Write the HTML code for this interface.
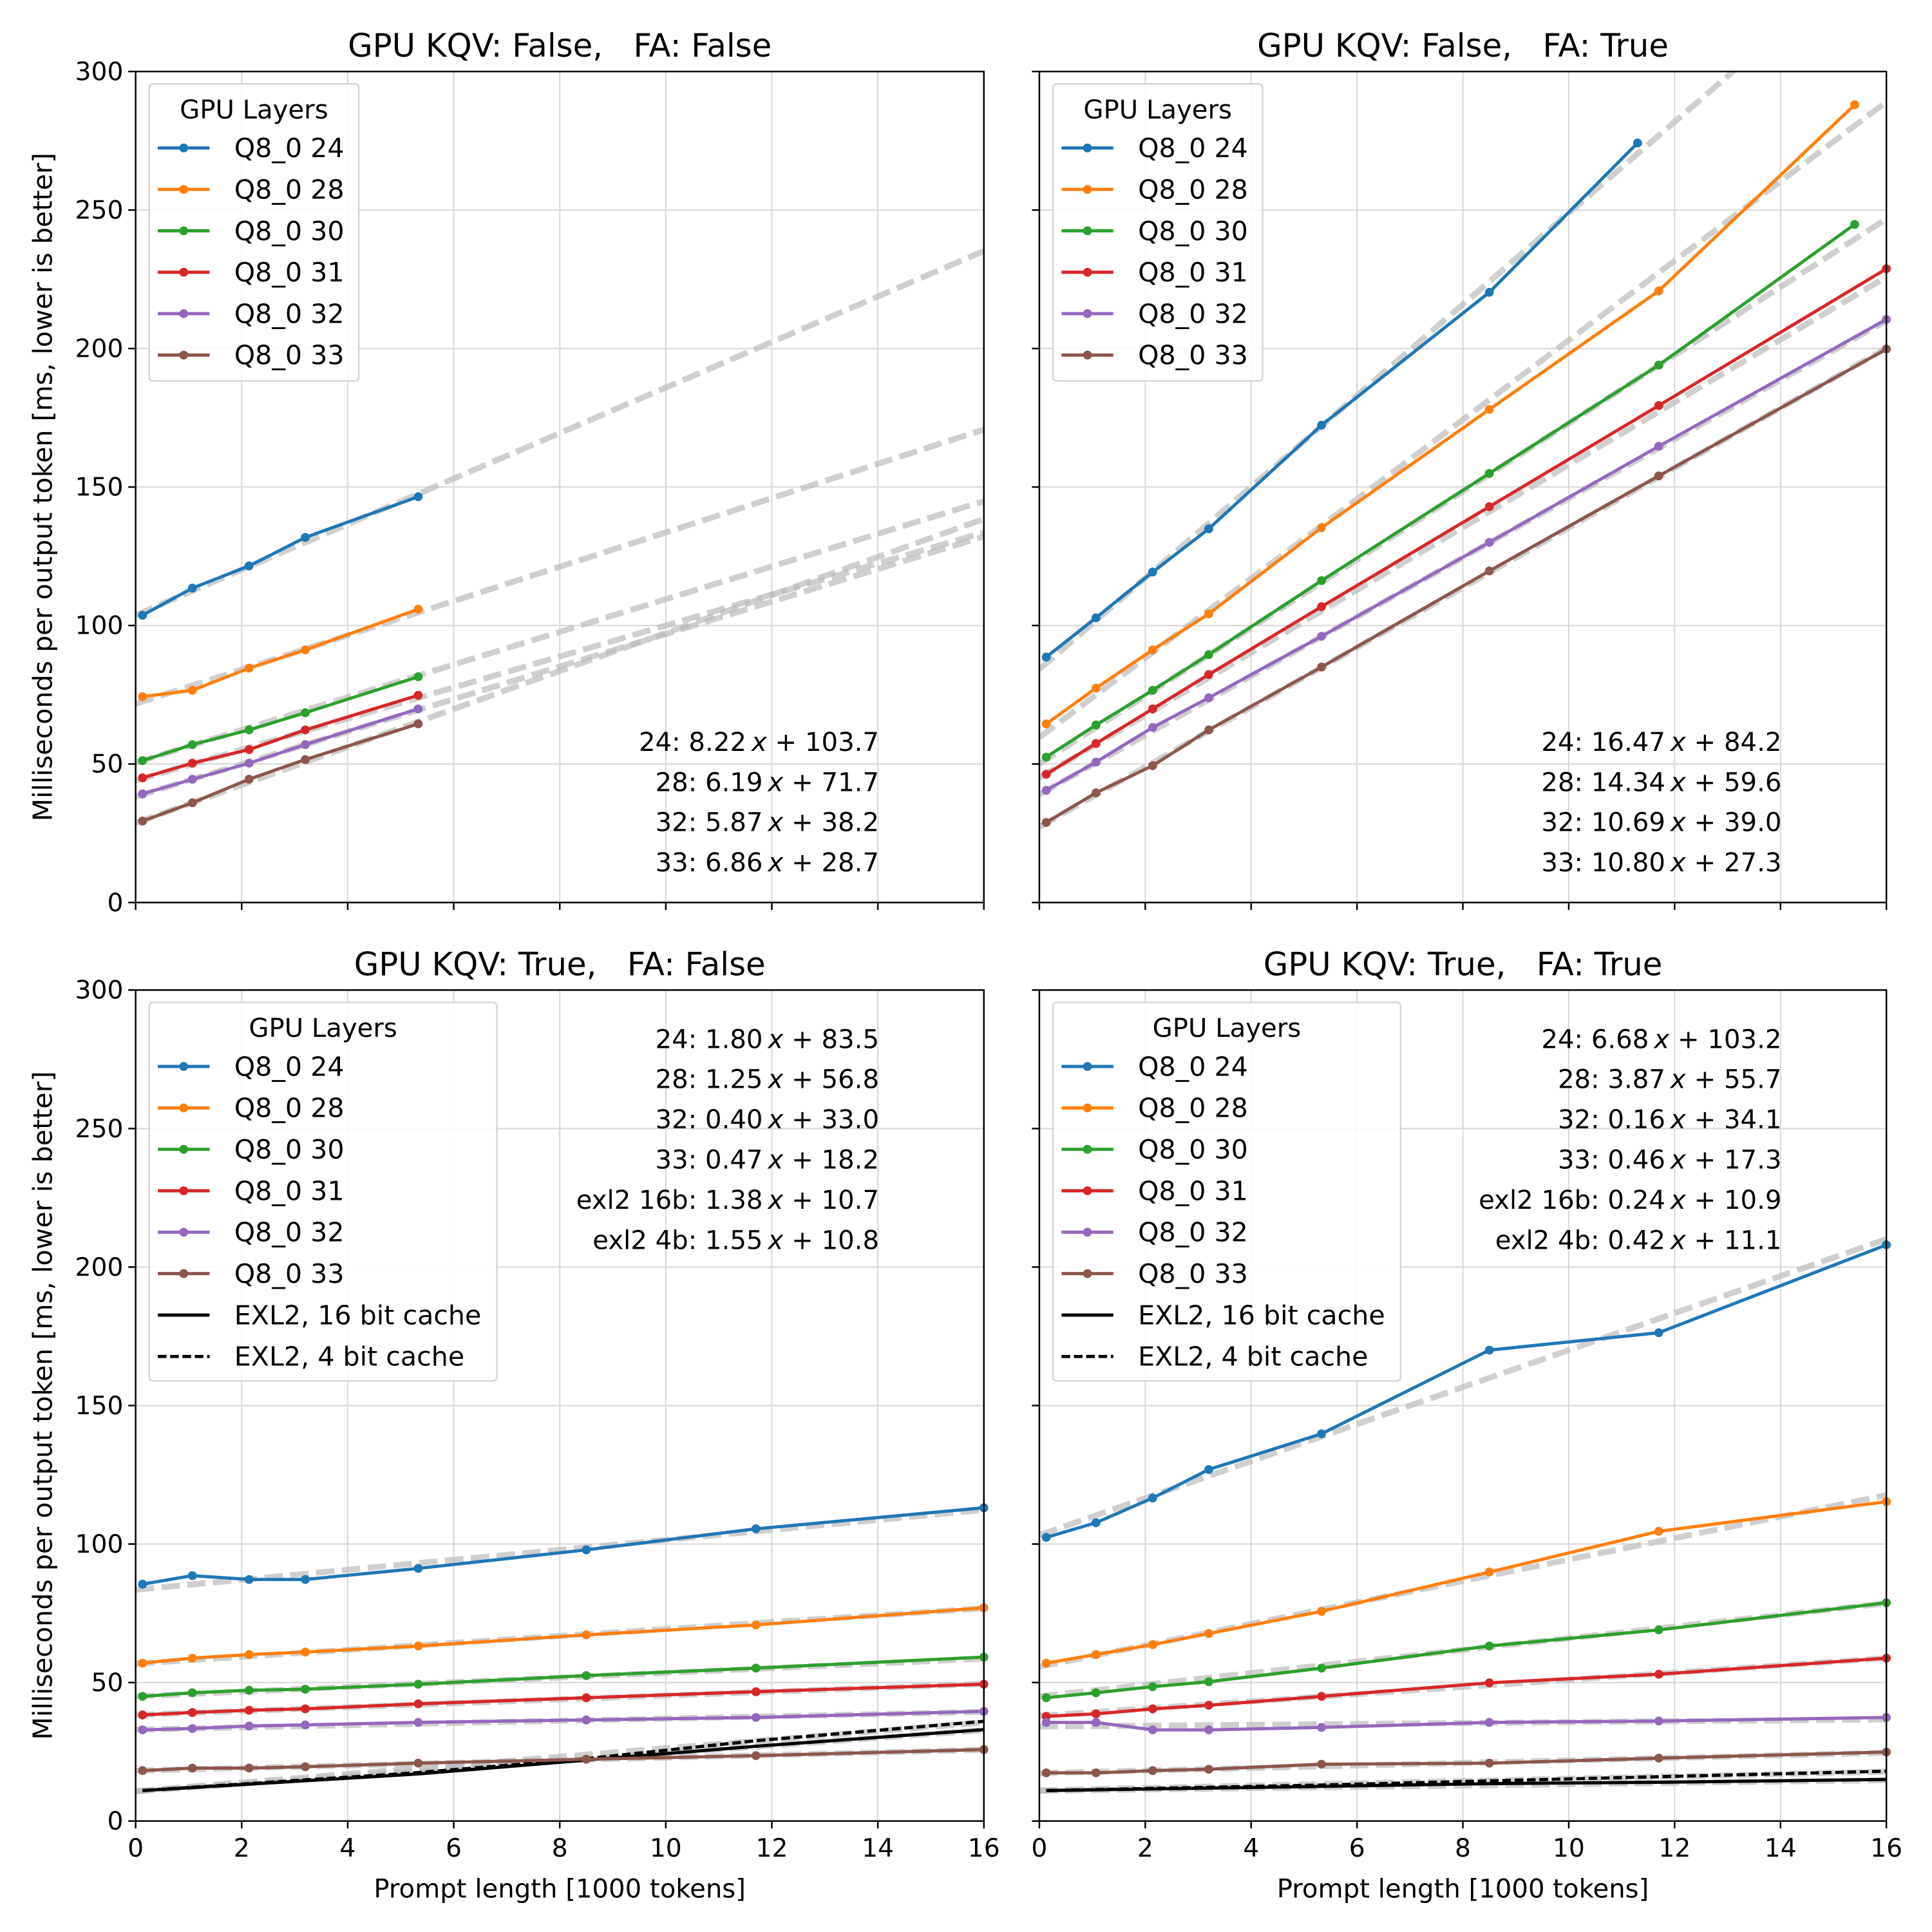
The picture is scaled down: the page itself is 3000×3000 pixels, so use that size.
<!DOCTYPE html>
<html><head><meta charset="utf-8"><style>
html,body{margin:0;padding:0;background:#fff}
svg{display:block}
text{font-family:"DejaVu Sans","Liberation Sans",sans-serif;fill:#000;white-space:pre}
</style></head><body>
<svg id="fig" xmlns="http://www.w3.org/2000/svg" width="3000" height="3000" viewBox="0 0 1567 1567"></svg>
<script>
const NS="http://www.w3.org/2000/svg";
const fig=document.getElementById('fig');
const colors={"24":"#1f77b4","28":"#ff7f0e","30":"#2ca02c","31":"#d62728","32":"#9467bd","33":"#8c564b"};
const layers=["24","28","30","31","32","33"];
const yTicks=[0,50,100,150,200,250,300];
const xTicks=[0,2,4,6,8,10,12,14,16];
const xsStd=[0.13,1.07,2.14,3.2,5.33,8.5,11.7,16];

// panel 1: KQV False FA False
const p1x={"24":[0.13,1.07,2.14,3.2,5.33],"28":[0.13,1.07,2.14,3.2,5.33],"30":[0.13,1.07,2.14,3.2,5.33],"31":[0.13,1.07,2.14,3.2,5.33],"32":[0.13,1.07,2.14,3.2,5.33],"33":[0.13,1.07,2.14,3.2,5.33]};
const p1y={"24":[103.7,113.5,121.5,131.8,146.5],"28":[74.3,76.6,84.6,91.2,105.9],"30":[51.2,57,62.3,68.5,81.5],"31":[45,50.3,55.2,62.3,74.8],"32":[39.2,44.5,50.3,57,69.9],"33":[29.4,36,44.5,51.6,64.5]};
const p1fit={"24":[8.22,103.7],"28":[6.19,71.7],"30":[5.9,50.5],"31":[5.6,44],"32":[5.87,38.2],"33":[6.86,28.7]};
const p1ann=["24: 8.22","28: 6.19","32: 5.87","33: 6.86"];
const p1annB=["103.7","71.7","38.2","28.7"];

// panel 2: KQV False FA True
const p2x={"24":[0.13,1.07,2.14,3.2,5.33,8.5,11.3],"28":[0.13,1.07,2.14,3.2,5.33,8.5,11.7,15.4],"30":[0.13,1.07,2.14,3.2,5.33,8.5,11.7,15.4],"31":xsStd,"32":xsStd,"33":xsStd};
const p2y={"24":[88.6,102.8,119.3,134.9,172.3,220.3,274.2],"28":[64.5,77.4,91.2,104.2,135.3,178,220.8,288],"30":[52.5,64.1,76.6,89.5,116.2,154.9,194,244.8],"31":[46.3,57.4,69.9,82.3,106.8,142.9,179.4,228.8],"32":[40.5,50.7,63.2,73.9,96.1,130,164.7,210.5],"33":[28.9,39.6,49.4,62.3,85,119.7,154,199.8]};
const p2fit={"24":[16.47,84.2],"28":[14.34,59.6],"30":[12.3,50],"31":[11.3,45],"32":[10.69,39.0],"33":[10.8,27.3]};
const p2ann=["24: 16.47","28: 14.34","32: 10.69","33: 10.80"];
const p2annB=["84.2","59.6","39.0","27.3"];

// panel 3: KQV True FA False
const p3y={"24":[85.5,88.6,87.2,87.2,91.2,97.9,105.5,113.1],"28":[57,58.8,60.1,61,63.2,67.2,70.8,77],"30":[45,46.3,47.2,47.6,49.4,52.5,55.2,59.2],"31":[38.3,39.2,40,40.5,42.3,44.5,46.7,49.4],"32":[32.9,33.4,34.3,34.7,35.6,36.5,37.4,39.6],"33":[18.2,19.1,19.1,19.6,20.9,22.3,23.6,25.8]};
const p3fit={"24":[1.80,83.5],"28":[1.25,56.8],"30":[0.85,45],"31":[0.7,38.3],"32":[0.40,33.0],"33":[0.47,18.2]};
const exlX=[0.13,5.33,8.5,11.7,16];
const p3e16=[11,17,22,27,33];
const p3e4=[11,17.5,22.5,29,36];
const p3efit=[[1.38,10.7],[1.55,10.8]];
const p3ann=["24: 1.80","28: 1.25","32: 0.40","33: 0.47","exl2 16b: 1.38","exl2 4b: 1.55"];
const p3annB=["83.5","56.8","33.0","18.2","10.7","10.8"];

// panel 4: KQV True FA True
const p4y={"24":[102.4,107.7,116.6,126.9,139.8,170,176.3,208],"28":[57,60.1,63.7,67.7,75.7,89.9,104.6,115.3],"30":[44.5,46.3,48.5,50.3,55.2,63.2,69,78.8],"31":[37.8,38.7,40.5,41.8,45,49.9,53,58.8],"32":[35.6,35.6,32.9,32.9,33.8,35.6,36.1,37.4],"33":[17.4,17.4,18.2,18.7,20.5,20.9,22.7,24.9]};
const p4fit={"24":[6.68,103.2],"28":[3.87,55.7],"30":[2.1,45],"31":[1.3,38],"32":[0.16,34.1],"33":[0.46,17.3]};
const p4e16=[11,12.5,13.5,14,15];
const p4e4=[11,13,14.5,16,18];
const p4efit=[[0.24,10.9],[0.42,11.1]];
const p4ann=["24: 6.68","28: 3.87","32: 0.16","33: 0.46","exl2 16b: 0.24","exl2 4b: 0.42"];
const p4annB=["103.2","55.7","34.1","17.3","10.9","11.1"];

function el(tag,attrs,parent){const e=document.createElementNS(NS,tag);for(const k in attrs)e.setAttribute(k,attrs[k]);(parent||fig).appendChild(e);return e;}

function panel(id,L,T,W,H,title,showXL,showYL,xd,yd,fit,exl,ann,annB,annTop,annX){
  const g=el('g',{});
  
  
  const sx=v=>L+v/16*W, sy=v=>T+H-v/300*H;
  const cp=el('clipPath',{id:'c'+id},g);el('rect',{x:L,y:T,width:W,height:H},cp);
  xTicks.forEach(t=>{const l=el('line',{x1:sx(t),x2:sx(t),y1:T,y2:T+H,stroke:'#d9d9d9','stroke-width':1.1},g);});
  yTicks.forEach(t=>{const l=el('line',{x1:L,x2:L+W,y1:sy(t),y2:sy(t),stroke:'#d9d9d9','stroke-width':1.1},g);});
  const cg=el('g',{'clip-path':'url(#c'+id+')'},g);
  layers.forEach(k=>{const f=fit[k];const l=el('line',{x1:sx(0),y1:sy(f[1]),x2:sx(16),y2:sy(f[0]*16+f[1]),stroke:'#bbb','stroke-opacity':0.7,'stroke-width':4.8,'stroke-dasharray':'15,6'},cg);});
  if(exl){exl.fit.forEach((f,i)=>{const l=el('line',{x1:sx(0),y1:sy(f[1]),x2:sx(16),y2:sy(f[0]*16+f[1]),stroke:'#bbb','stroke-opacity':0.7,'stroke-width':4.8,'stroke-dasharray':'15,6'},cg);});}
  if(exl){
    [[exl.e16,'none','exl2-16bit-line'],[exl.e4,'7,3','exl2-4bit-line']].forEach(([ys,da,nm])=>{
      const pts=exlX.map((x,i)=>sx(x)+','+sy(ys[i])).join(' ');
      const p=el('polyline',{points:pts,fill:'none',stroke:'#000','stroke-width':2.6,'stroke-dasharray':da},cg);
      
    });
  }
  layers.forEach(k=>{
    const xs=xd[k],ys=yd[k];
    const pts=xs.map((x,i)=>sx(x)+','+sy(ys[i])).join(' ');
    const p=el('polyline',{points:pts,fill:'none',stroke:colors[k],'stroke-width':2.6},cg);
    
    xs.forEach((x,i)=>{const c=el('circle',{cx:sx(x),cy:sy(ys[i]),r:3.6,fill:colors[k]},g);});
  });
  const fr=el('rect',{x:L,y:T,width:W,height:H,fill:'none',stroke:'#000','stroke-width':1.3},g);
  
  xTicks.forEach(t=>{el('line',{x1:sx(t),x2:sx(t),y1:T+H,y2:T+H+6,stroke:'#000','stroke-width':1.3},g);
    if(showXL){const tx=el('text',{x:sx(t),y:T+H+29,'text-anchor':'middle','font-size':20.5},g);tx.textContent=t;}});
  yTicks.forEach(t=>{el('line',{x1:L-6,x2:L,y1:sy(t),y2:sy(t),stroke:'#000','stroke-width':1.3},g);
    if(showYL){const tx=el('text',{x:L-10,y:sy(t)+7,'text-anchor':'end','font-size':20.5},g);tx.textContent=t;}});
  const tt=el('text',{x:L+W/2,y:T-12,'text-anchor':'middle','font-size':26},g);tt.textContent=title;
  if(showXL){const xl=el('text',{x:L+W/2,y:T+H+62,'text-anchor':'middle','font-size':21},g);xl.textContent='Prompt length [1000 tokens]';}
  if(showYL){const yl=el('text',{x:0,y:0,'text-anchor':'middle','font-size':21.5,transform:'translate(42,'+(T+H/2)+') rotate(-90)'},g);yl.textContent='Milliseconds per output token [ms, lower is better]';}
  ann.forEach((a,i)=>{const tx=el('text',{x:annX,y:annTop+i*32.6,'text-anchor':'end','font-size':21},g);
    
    const s1=el('tspan',{},tx);s1.textContent=a+'\u2009';const s2=el('tspan',{'font-style':'italic'},tx);s2.textContent='x';const s3=el('tspan',{},tx);s3.textContent=' + '+annB[i];});
  const lh=33.6, lx=L+11, ly=T+10;
  const lw=exl?282:170, lhgt=exl?307:241;
  const lg=el('g',{},g);
  el('rect',{x:lx,y:ly,width:lw,height:lhgt,rx:3,fill:'#fff','fill-opacity':0.85,stroke:'#d6d6d6','stroke-width':1.3},lg);
  const ttl=el('text',{x:lx+lw/2,y:ly+28,'text-anchor':'middle','font-size':21},lg);ttl.textContent='GPU Layers';
  const labels=layers.map(k=>'Q8_0 '+k);
  if(exl){labels.push('EXL2, 16 bit cache','EXL2, 4 bit cache');}
  labels.forEach((lab,i)=>{
    const yy=ly+52+i*lh;
    const c=i<6?colors[layers[i]]:'#000';
    const e=el('g',{},lg);
    el('line',{x1:lx+7,x2:lx+49,y1:yy,y2:yy,stroke:c,'stroke-width':2.6,'stroke-dasharray':i==7?'7,3':'none'},e);
    if(i<6)el('circle',{cx:lx+28,cy:yy,r:3.6,fill:c},e);
    const t=el('text',{x:lx+69,y:yy+7.5,'font-size':21.5},e);t.textContent=lab;
  });
}
panel('panel-kqv-false-fa-false',110,58,688,674,'GPU KQV: False,   FA: False',false,true,p1x,p1y,p1fit,null,p1ann,p1annB,609,713);
panel('panel-kqv-false-fa-true',843,58,687,674,'GPU KQV: False,   FA: True',false,false,p2x,p2y,p2fit,null,p2ann,p2annB,609,1445);
const std={};layers.forEach(k=>std[k]=xsStd);
panel('panel-kqv-true-fa-false',110,803,688,674,'GPU KQV: True,   FA: False',true,true,std,p3y,p3fit,{e16:p3e16,e4:p3e4,fit:p3efit},p3ann,p3annB,850,713);
panel('panel-kqv-true-fa-true',843,803,687,674,'GPU KQV: True,   FA: True',true,false,std,p4y,p4fit,{e16:p4e16,e4:p4e4,fit:p4efit},p4ann,p4annB,850,1445);
</script>
</body></html>
